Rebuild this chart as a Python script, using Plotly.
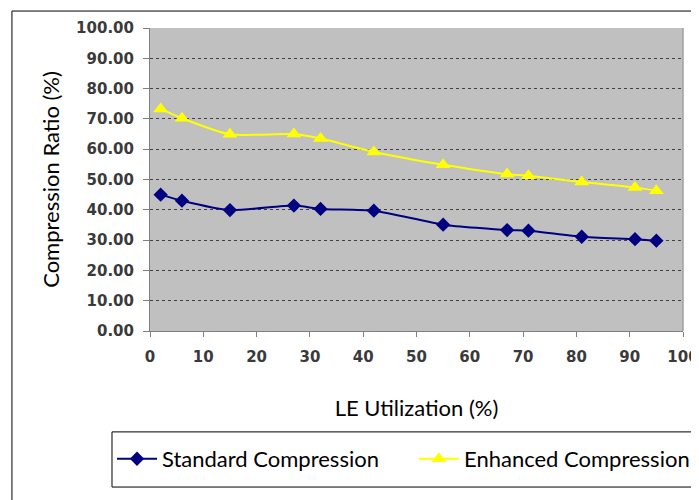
import plotly.graph_objects as go

utilization = [2, 6, 15, 27, 32, 42, 55, 67, 71, 81, 91, 95]
standard = [45.0, 43.0, 39.9, 41.4, 40.3, 39.7, 35.1, 33.3, 33.1, 31.1, 30.3, 29.8]
enhanced = [73.3, 70.2, 64.9, 65.0, 63.5, 59.1, 54.9, 51.8, 51.2, 49.2, 47.4, 46.3]
x_ticks = list(range(0, 101, 10))
y_ticks = list(range(0, 101, 10))

title_font = "Lato, Liberation Sans Narrow, sans-serif"
tick_font = dict(family="DejaVu Sans, Verdana, sans-serif", size=15, color="#3a3a3a", weight="bold")

fig = go.Figure()
fig.add_trace(go.Scatter(
    x=utilization, y=standard, name="Standard Compression",
    mode="lines+markers", line=dict(color="#000080", width=2, shape="spline", smoothing=0.6),
    marker=dict(symbol="diamond", size=11, color="#000080"),
))
fig.add_trace(go.Scatter(
    x=utilization, y=enhanced, name="Enhanced Compression",
    mode="lines+markers", line=dict(color="#FFFF00", width=2, shape="spline", smoothing=0.6),
    marker=dict(symbol="triangle-up", size=13, color="#FFFF00"),
))

fig.update_layout(
    width=699, height=500,
    margin=dict(l=142, r=24, t=20, b=177, autoexpand=False),
    paper_bgcolor="white", plot_bgcolor="#C0C0C0",
    showlegend=True,
    legend=dict(orientation="h", x=-0.0713, y=-0.353, xanchor="left", yanchor="top",
                font=dict(family=title_font, size=22, color="black"),
                bgcolor="rgba(0,0,0,0)", entrywidth=247, itemwidth=40),
    xaxis=dict(range=[0, 100], tickvals=x_ticks, showgrid=False, zeroline=False,
               showline=True, linecolor="#808080", linewidth=1,
               ticks="outside", ticklen=5, tickcolor="#808080", tickfont=tick_font,
               ticklabelstandoff=7,
               title=dict(text="LE Utilization (%)", font=dict(family=title_font, size=22, color="black"), standoff=35)),
    yaxis=dict(range=[0, 100], tickvals=y_ticks, tickformat=".2f", showgrid=True,
               gridcolor="#404040", griddash="dot", gridwidth=1, zeroline=False,
               showline=True, linecolor="#808080", linewidth=1,
               ticks="outside", ticklen=6, tickcolor="#808080", tickfont=tick_font,
               ticklabelstandoff=6,
               title=dict(text="Compression Ratio (%)", font=dict(family=title_font, size=22, color="black"), standoff=10)),
    shapes=[
        dict(type="rect", xref="paper", yref="paper", x0=-0.259, x1=1.2, y0=-0.8, y1=1.056,
             line=dict(color="black", width=1), fillcolor="rgba(0,0,0,0)", layer="below"),
        dict(type="rect", xref="paper", yref="paper", x0=-0.0713, x1=1.2, y0=-0.515, y1=-0.333,
             line=dict(color="black", width=1), fillcolor="rgba(0,0,0,0)"),
        dict(type="line", xref="paper", yref="paper", x0=1, x1=1, y0=0, y1=1,
             line=dict(color="#A0A0A0", width=1.5)),
    ],
)

fig.write_html("out.html")
